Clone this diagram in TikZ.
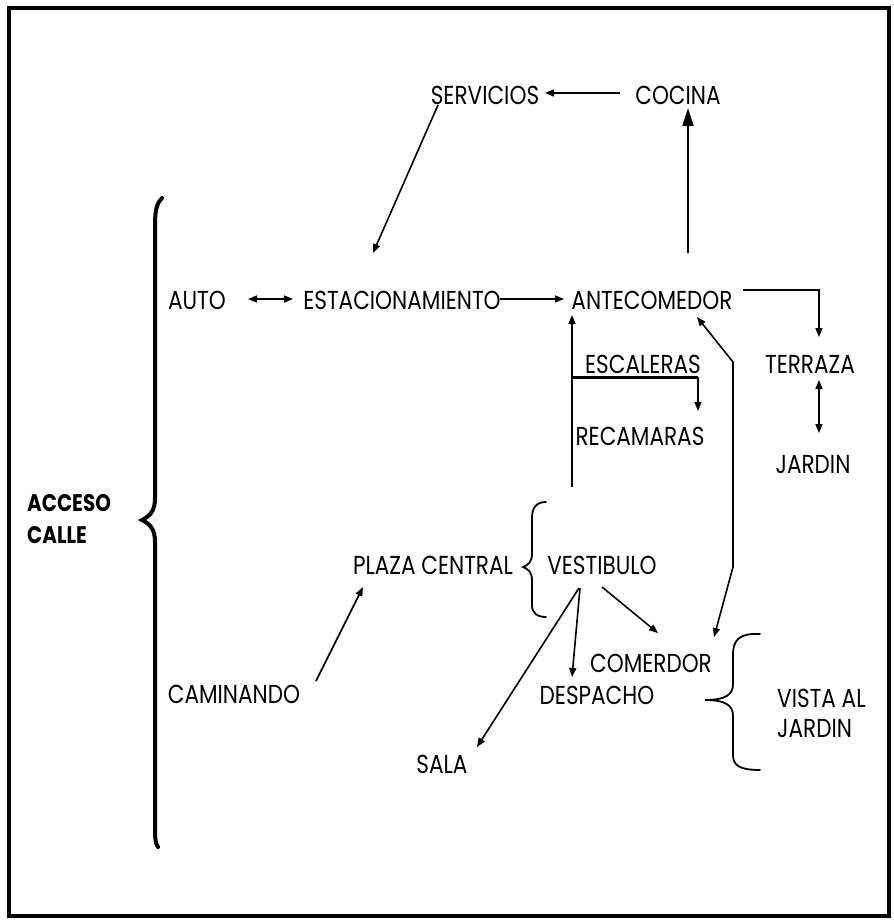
\documentclass[tikz,border=0pt]{standalone}
\usepackage{fontspec}
\setmainfont{Poppins}[FakeStretch=0.83]
\usetikzlibrary{arrows.meta}
\begin{document}
\begin{tikzpicture}[x=1pt,y=-1pt,
  lbl/.style={inner sep=0pt, font=\fontsize{26}{30}\selectfont},
  conn/.style={line width=1.6pt},
  arr/.style={conn, -{Triangle[length=9pt,width=7pt]}},
  darr/.style={conn, {Triangle[length=9pt,width=7pt]}-{Triangle[length=9pt,width=7pt]}},
  brace/.style={line width=1.8pt, line cap=round}
]
\useasboundingbox (0,0) rectangle (894,922);
\draw[line width=3.5pt] (9,8) rectangle (889,916);

% nodes
\node[lbl] (servicios) at (485,95) {SERVICIOS};
\node[lbl] (cocina) at (678,95) {COCINA};
\node[lbl] (auto) at (197,300) {AUTO};
\node[lbl] (estac) at (402,300) {ESTACIONAMIENTO};
\node[lbl] (ante) at (652,300) {ANTECOMEDOR};
\node[lbl] (terraza) at (810,364) {TERRAZA};
\node[lbl] (jardin) at (813,465) {JARDIN};
\node[lbl] (escaleras) at (643,364) {ESCALERAS};
\node[lbl] (recamaras) at (640,436) {RECAMARAS};
\node[lbl] (plaza) at (433,565) {PLAZA CENTRAL};
\node[lbl] (vestibulo) at (602,565) {VESTIBULO};
\node[lbl] (caminando) at (234,694) {CAMINANDO};
\node[lbl] (comerdor) at (651,663) {COMERDOR};
\node[lbl] (despacho) at (597,695) {DESPACHO};
\node[lbl] (sala) at (442,764) {SALA};
\node[lbl, align=left, anchor=west, font=\fontsize{26}{30}\selectfont] (vista) at (777,713) {VISTA AL\\JARDIN};
\node[lbl, align=left, anchor=west, font=\fontsize{24}{32}\selectfont\bfseries] (acceso) at (27,519) {ACCESO\\CALLE};

% connection points
\coordinate (cocW) at (620,93);
\coordinate (serE) at (545,93);
\coordinate (serS) at (438,105);
\coordinate (estN) at (373,253);
\coordinate (antN) at (688,253);
\coordinate (cocS) at (688,108);
\coordinate (autE) at (248,299);
\coordinate (estW) at (293,299);
\coordinate (estE) at (500,299);
\coordinate (antW) at (564,299);
\coordinate (antE) at (743,290);
\coordinate (terN) at (819,337);
\coordinate (terS) at (819,380);
\coordinate (jarN) at (819,433);
\coordinate (vesN) at (572,487);
\coordinate (antS) at (572,315);
\coordinate (escL) at (572,377);
\coordinate (escR) at (698,377);
\coordinate (recN) at (698,411);
\coordinate (antSE) at (697,317);
\coordinate (comNE) at (714,637);
\coordinate (vesS1) at (579,588);
\coordinate (salN) at (477,747);
\coordinate (vesS2) at (580,588);
\coordinate (desN) at (572,677);
\coordinate (vesS3) at (602,587);
\coordinate (comNW) at (658,633);
\coordinate (camE) at (316,681);
\coordinate (plaS) at (363,587);

% connectors
\draw[arr] (cocW) -- (serE);
\draw[arr] (serS) -- (estN);
\draw[line width=2.2pt, -{Triangle[length=18pt,width=11pt]}] (antN) -- (cocS);
\draw[darr] (autE) -- (estW);
\draw[arr] (estE) -- (antW);
\draw[arr] (antE) -| (terN);
\draw[darr] (terS) -- (jarN);
\draw[arr] (vesN) -- (antS);
\draw[line width=3pt] (escL) -- (escR);
\draw[arr] (escR) -- (recN);
\draw[darr] (comNE) -- (733,567) -- (733,362) -- (antSE);
\draw[arr] (vesS1) -- (salN);
\draw[arr] (vesS2) -- (desN);
\draw[arr] (vesS3) -- (comNW);
\draw[arr] (camE) -- (plaS);

% braces
\draw[brace, line width=4pt] (162,198) .. controls (157,203) and (155,210) .. (155,224)
  -- (155,498) .. controls (155,511) and (150,516) .. (142,520)
  .. controls (150,524) and (155,529) .. (155,542)
  -- (155,832) .. controls (155,840) and (156,844) .. (158,847);
\draw[brace] (546,502) .. controls (536,502) and (532,508) .. (532,518)
  -- (532,554) .. controls (532,562) and (528,565) .. (523,567)
  .. controls (528,569) and (532,572) .. (532,580)
  -- (532,605) .. controls (532,613) and (537,617) .. (546,617);
\draw[brace] (760,634) .. controls (739,633) and (733,640) .. (733,655)
  -- (733,684) .. controls (733,695) and (725,700) .. (705,700)
  .. controls (725,700) and (733,705) .. (733,716)
  -- (733,755) .. controls (733,765) and (739,770) .. (760,770);
\end{tikzpicture}
\end{document}
